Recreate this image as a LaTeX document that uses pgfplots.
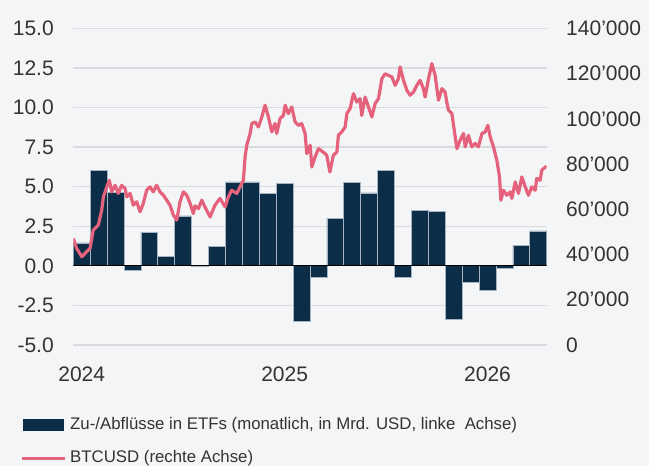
\documentclass[border=0pt]{standalone}
\usepackage{fontspec}
\setmainfont{Liberation Sans}
\usepackage{pgfplots}
\usepackage{pgfplotstable}
\pgfplotsset{compat=1.18}

\definecolor{bg}{RGB}{243,245,247}
\definecolor{navy}{RGB}{12,45,72}
\definecolor{btc}{RGB}{229,98,124}
\definecolor{gridc}{RGB}{217,219,222}
\definecolor{txt}{RGB}{51,51,51}
\definecolor{baredge}{RGB}{165,180,195}

% monthly ETF flows (bn USD), bar centred mid-month
\pgfplotstableread{
m flow
0.5 1.45
1.5 6.0
2.5 4.65
3.5 -0.3
4.5 2.1
5.5 0.62
6.5 3.15
7.5 -0.05
8.5 1.25
9.5 5.3
10.5 5.3
11.5 4.55
12.5 5.2
13.5 -3.5
14.5 -0.75
15.5 3.0
16.5 5.25
17.5 4.6
18.5 6.0
19.5 -0.7
20.5 3.5
21.5 3.45
22.5 -3.4
23.5 -1.05
24.5 -1.55
25.5 -0.17
26.5 1.3
27.5 2.2
}\flows

% BTCUSD, x in months since Jan 2024
\pgfplotstableread{
m price
0.00 47100
0.20 42700
0.50 39000
0.79 41200
0.99 42700
1.18 50800
1.48 53000
1.68 59600
1.78 65500
1.98 69900
2.13 72800
2.27 67700
2.47 70600
2.66 67000
2.86 70600
3.06 69200
3.16 65500
3.36 67000
3.55 61800
3.75 63300
3.95 58900
4.14 62600
4.34 68400
4.54 69900
4.73 67700
4.93 70600
5.13 67700
5.33 66200
5.53 64000
5.72 61800
5.92 57400
6.12 55200
6.31 63300
6.51 67700
6.71 66200
6.91 62600
7.10 58100
7.20 61500
7.40 60300
7.60 64000
7.79 61000
8.09 56600
8.38 61800
8.68 64800
8.98 61000
9.17 65500
9.37 68400
9.67 67000
9.86 69900
10.06 72800
10.16 83100
10.26 88300
10.46 93500
10.56 97900
10.75 98600
10.95 96400
11.15 100800
11.34 106000
11.54 100800
11.74 94200
11.93 97900
12.03 93500
12.23 100100
12.43 101500
12.53 106000
12.72 102300
12.92 105200
13.12 98600
13.31 97100
13.51 97900
13.71 93500
13.81 84600
14.01 88300
14.11 78700
14.30 83100
14.50 86800
14.78 85300
14.99 83900
15.18 76500
15.38 83900
15.59 85300
15.68 92700
15.88 94200
16.08 96400
16.18 102300
16.37 104500
16.57 111100
16.77 107400
16.96 108900
17.06 101500
17.26 109600
17.46 105200
17.66 100800
17.85 106700
18.05 108900
18.25 117700
18.44 119900
18.64 119200
18.84 118500
19.04 114800
19.23 117700
19.33 122900
19.53 117000
19.73 112600
19.92 110400
20.12 111800
20.32 114800
20.51 117000
20.71 113300
20.81 109600
21.01 117700
21.21 124400
21.40 119200
21.60 108200
21.80 113300
21.99 111800
22.09 107400
22.19 103800
22.39 102300
22.59 92000
22.69 86800
22.88 90500
23.08 93500
23.18 87600
23.37 92700
23.57 87600
23.77 89100
23.96 87600
24.17 93500
24.36 94200
24.52 97100
24.66 92000
24.85 87600
25.05 81700
25.21 74300
25.29 64000
25.44 68400
25.64 66200
25.84 67700
25.94 64800
26.14 72100
26.33 67000
26.53 74300
26.73 69900
26.92 66200
27.12 69900
27.32 68400
27.41 73600
27.61 72800
27.71 77300
27.90 78500
28.00 79000
}\btcdata

\begin{document}
\begin{tikzpicture}[x=1pt,y=1pt]
\useasboundingbox (0,0) rectangle (649,466);
\fill[bg] (0,0) rectangle (649,466);

\begin{axis}[
    at={(73.3pt,121pt)}, anchor=south west,
    width=473.4pt, height=316.7pt, scale only axis,
    xmin=0, xmax=28, ymin=-5, ymax=15,
    axis line style={draw=none},
    major tick length=0pt,
    ytick={-5,-2.5,0,2.5,5,7.5,10,12.5,15},
    xtick={0.5,12.5,24.5}, xticklabels={2024,2025,2026},
    ymajorgrids, grid style={gridc, line width=1.3pt},
    /pgf/number format/fixed, /pgf/number format/precision=1,
    /pgf/number format/fixed zerofill,
    /pgf/number format/assume math mode=true,
    tick label style={font=\fontsize{21}{24}\selectfont, text=txt},
    yticklabel style={xshift=-16pt},
    xticklabel style={yshift=-18pt},
  ]
  \addplot[ybar, bar width=1, bar shift=0pt, fill=navy, draw=baredge, line width=0.7pt]
    table[x=m, y=flow] {\flows};
  \draw[black, line width=1pt] (axis cs:0,0) -- (axis cs:28,0);
\end{axis}

\begin{axis}[
    at={(73.3pt,121pt)}, anchor=south west,
    width=473.4pt, height=316.7pt, scale only axis,
    xmin=0, xmax=28, ymin=0, ymax=140000,
    axis x line=none, axis y line*=right,
    axis line style={draw=none},
    major tick length=0pt,
    scaled y ticks=false,
    ytick={0,20000,40000,60000,80000,100000,120000,140000},
    yticklabels={0,20’000,40’000,60’000,80’000,100’000,120’000,140’000},
    tick label style={font=\fontsize{21}{24}\selectfont, text=txt},
    yticklabel style={xshift=16pt},
  ]
  \addplot[btc, line width=3.2pt, line join=round, no marks]
    table[x=m, y=price] {\btcdata};
\end{axis}

% legend
\fill[navy] (23.3,35.3) rectangle (64,47);
\node[anchor=west, inner sep=0pt, text=txt, font=\fontsize{16.8}{20}\selectfont]
  at (70,41) {Zu-/Abflüsse in ETFs (monatlich, in Mrd. USD, linke\ \ Achse)};
\draw[btc, line width=3pt] (21.7,7.7) -- (65,7.7);
\node[anchor=west, inner sep=0pt, text=txt, font=\fontsize{16.8}{20}\selectfont]
  at (70,8) {BTCUSD (rechte Achse)};
\end{tikzpicture}
\end{document}
